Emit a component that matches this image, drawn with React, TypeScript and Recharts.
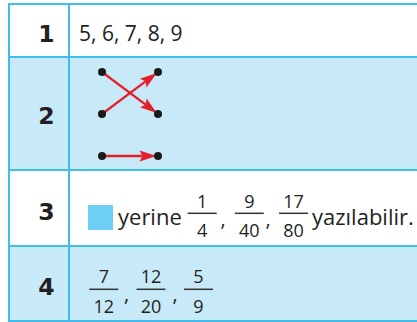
import React from 'react';
import { ScatterChart, Scatter, XAxis, YAxis, ReferenceLine } from 'recharts';

// table content
const ROW_LABELS = ['1', '2', '3', '4'];
const SEQUENCE = [5, 6, 7, 8, 9];
const ROW3_NUMS = [1, 9, 17];
const ROW3_DENS = [4, 40, 80];
const ROW4_NUMS = [7, 12, 5];
const ROW4_DENS = [12, 20, 9];

// matching diagram: left dot i is joined to right dot MATCHES[i]
const LEFT_DOTS = [0, 1, 2];
const RIGHT_DOTS = [0, 1, 2];
const MATCHES = [1, 0, 2];

const BORDER = '#3fbdeb';
const FILL = '#c8e9f8';
const TEXT = '#231f20';
const RED = '#e51f2a';
const SANS = '"Open Sans", Roboto, sans-serif';

// layout (pixels)
const LINE_YS = [3, 56, 169, 245, 320];
const LABEL_BASELINES = [41.5, 124, 220, 295];
const ROW3_X = [202.2, 249.3, 293.5];
const ROW4_X = [103.8, 151, 198.5];

function Fraction({ num, den, cx, barY, gap }: { num: number; den: number; cx: number; barY: number; gap: number }) {
  return (
    <g fontFamily={SANS} fontSize={18} fontWeight={500} fill={TEXT} textAnchor="middle">
      <text x={cx} y={barY - gap}>{num}</text>
      <rect x={cx - 14.5} y={barY - 0.75} width={29} height={1.5} fill="#333" />
      <text x={cx} y={barY + 23.7}>{den}</text>
    </g>
  );
}

const Arrow = (p: any) => {
  const { x1, y1, x2, y2 } = p;
  const dx = x2 - x1;
  const dy = y2 - y1;
  const len = Math.hypot(dx, dy);
  const ux = dx / len;
  const uy = dy / len;
  const nx = -uy;
  const ny = ux;
  const tx = x2 - ux * 1.5;
  const ty = y2 - uy * 1.5;
  const bx = tx - ux * 17;
  const by = ty - uy * 17;
  const half = 5.5;
  const notch = 3;
  const pts = [
    [tx, ty],
    [bx + nx * half, by + ny * half],
    [bx + ux * notch, by + uy * notch],
    [bx - nx * half, by - ny * half],
  ]
    .map((q) => q.join(','))
    .join(' ');
  return (
    <g>
      <line x1={x1} y1={y1} x2={bx + ux * notch} y2={by + uy * notch} stroke={RED} strokeWidth={2.3} />
      <polygon points={pts} fill={RED} />
    </g>
  );
};

function MatchDiagram() {
  const dots = [
    ...LEFT_DOTS.map((i) => ({ x: 0, y: i })),
    ...RIGHT_DOTS.map((i) => ({ x: 1, y: i })),
  ];
  return (
    <ScatterChart width={76} height={104} margin={{ top: 10, right: 10, bottom: 10, left: 10 }}>
      <XAxis type="number" dataKey="x" domain={[0, 1]} hide />
      <YAxis type="number" dataKey="y" domain={[0, 2]} reversed hide />
      <Scatter
        data={dots}
        isAnimationActive={false}
        shape={(s: any) => <circle cx={s.cx} cy={s.cy} r={4} fill="#1a1a1a" />}
      />
      {LEFT_DOTS.map((i) => (
        <ReferenceLine
          key={i}
          segment={[{ x: 0, y: i }, { x: 1, y: MATCHES[i] }]}
          ifOverflow="visible"
          shape={Arrow}
        />
      ))}
    </ScatterChart>
  );
}

export default function App() {
  return (
    <div style={{ position: 'fixed', left: 0, top: 0, width: 417, height: 322, overflow: 'hidden', background: '#fff' }}>
      <svg width={417} height={322} style={{ position: 'absolute', left: 0, top: 0 }}>
        {LINE_YS.slice(0, -1).map((y, i) => (
          <rect key={i} x={8} y={y + 2} width={409} height={LINE_YS[i + 1] - y - 2} fill={i % 2 ? FILL : '#fff'} />
        ))}
        {LINE_YS.map((y) => (
          <rect key={y} x={8} y={y} width={409} height={2} fill={BORDER} />
        ))}
        <rect x={8} y={3} width={2} height={319} fill={BORDER} />
        <rect x={68} y={3} width={2} height={319} fill={BORDER} />

        {ROW_LABELS.map((l, i) => (
          <text key={l} x={54.5} y={LABEL_BASELINES[i]} textAnchor="end" fontFamily='"DejaVu Sans", sans-serif' fontWeight={700} fontSize={23.5} fill={TEXT}>
            {l}
          </text>
        ))}

        <g fontFamily={SANS} fontWeight={500} fill={TEXT}>
          <text x={79} y={40.5} fontSize={21}>
            {SEQUENCE.join(', ')}
          </text>

          <rect x={88} y={205} width={25} height={25} fill="#6dcff6" />
          <text x={118} y={225} fontSize={22}>yerine</text>
          <text x={223} y={225.5} fontSize={20} textAnchor="middle">,</text>
          <text x={268} y={225.5} fontSize={20} textAnchor="middle">,</text>
          <text x={312} y={225} fontSize={22}>yazılabilir.</text>

          <text x={126.7} y={301} fontSize={20} textAnchor="middle">,</text>
          <text x={175} y={301} fontSize={20} textAnchor="middle">,</text>
        </g>
        {ROW3_NUMS.map((n, i) => (
          <Fraction key={i} num={n} den={ROW3_DENS[i]} cx={ROW3_X[i]} barY={213.3} gap={5.3} />
        ))}
        {ROW4_NUMS.map((n, i) => (
          <Fraction key={i} num={n} den={ROW4_DENS[i]} cx={ROW4_X[i]} barY={289.3} gap={6.3} />
        ))}
      </svg>
      <div style={{ position: 'absolute', left: 92, top: 62 }}>
        <MatchDiagram />
      </div>
    </div>
  );
}
